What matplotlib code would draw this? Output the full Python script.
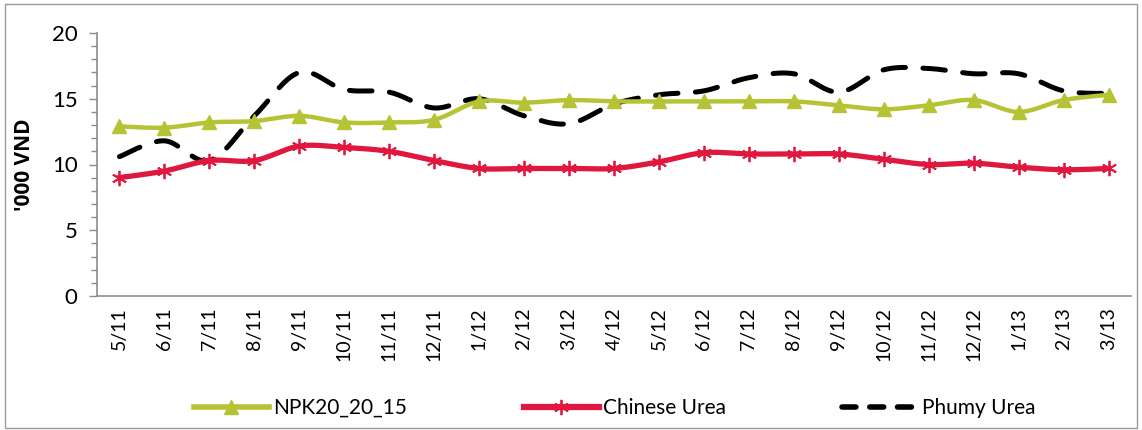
import numpy as np
import matplotlib
matplotlib.use("Agg")
import matplotlib.pyplot as plt
from matplotlib.lines import Line2D
from matplotlib.patches import Rectangle

months = ["5/11", "6/11", "7/11", "8/11", "9/11", "10/11", "11/11", "12/11",
          "1/12", "2/12", "3/12", "4/12", "5/12", "6/12", "7/12", "8/12",
          "9/12", "10/12", "11/12", "12/12", "1/13", "2/13", "3/13"]
npk = [12.9, 12.8, 13.2, 13.3, 13.7, 13.2, 13.2, 13.4, 14.8, 14.7, 14.9,
       14.8, 14.8, 14.8, 14.8, 14.8, 14.5, 14.2, 14.5, 14.9, 14.0, 14.9, 15.3]
chinese = [9.0, 9.5, 10.3, 10.3, 11.4, 11.3, 11.0, 10.3, 9.7, 9.7, 9.7,
           9.7, 10.2, 10.9, 10.8, 10.8, 10.8, 10.4, 10.0, 10.1, 9.8, 9.6, 9.7]
phumy = [10.6, 11.8, 10.3, 13.7, 17.0, 15.7, 15.5, 14.3, 15.0, 13.7, 13.1,
         14.6, 15.3, 15.6, 16.6, 16.9, 15.5, 17.2, 17.3, 16.9, 16.9, 15.6, 15.4]

font = ["Lato", "DejaVu Sans"]
plt.rcParams['font.family'] = font


def smooth(x, y, n=20):
    # Catmull-Rom style curve through the points (Excel "smoothed line" look)
    x = np.asarray(x, float)
    y = np.asarray(y, float)
    px = np.concatenate([[x[0]], x, [x[-1]]])
    py = np.concatenate([[y[0]], y, [y[-1]]])
    xs, ys = [], []
    t = np.linspace(0, 1, n, endpoint=False)
    for i in range(1, len(px) - 2):
        p0x, p1x, p2x, p3x = px[i - 1], px[i], px[i + 1], px[i + 2]
        p0y, p1y, p2y, p3y = py[i - 1], py[i], py[i + 1], py[i + 2]
        c1x, c1y = p1x + (p2x - p0x) / 6, p1y + (p2y - p0y) / 6
        c2x, c2y = p2x - (p3x - p1x) / 6, p2y - (p3y - p1y) / 6
        b0, b1, b2, b3 = (1 - t) ** 3, 3 * (1 - t) ** 2 * t, 3 * (1 - t) * t ** 2, t ** 3
        xs.append(b0 * p1x + b1 * c1x + b2 * c2x + b3 * p2x)
        ys.append(b0 * p1y + b1 * c1y + b2 * c2y + b3 * p2y)
    xs.append([x[-1]])
    ys.append([y[-1]])
    return np.concatenate(xs), np.concatenate(ys)


fig = plt.figure(figsize=(11.42, 4.30), dpi=100)
fig.patches.append(Rectangle((5 / 1142, 2 / 430), 1132 / 1142, 424 / 430,
                             transform=fig.transFigure, fill=False,
                             edgecolor="#9a9a9a", linewidth=1.0))

ax = fig.add_axes([97 / 1142, 1 - 296 / 430, (1131 - 97) / 1142, (296 - 33) / 430])
x = np.arange(len(months))

c_npk = "#B5C334"
c_ch = "#E0173F"
c_ph = "#000000"

sx, sy = smooth(x, phumy)
ax.plot(sx, sy, color=c_ph, lw=3.6, dashes=(4.5, 3.5), solid_capstyle="round",
        dash_capstyle="round", zorder=2)
sx, sy = smooth(x, npk)
ax.plot(sx, sy, color=c_npk, lw=3.2, zorder=3)
ax.plot(x, npk, ls="none", marker="^", ms=10, color=c_npk, zorder=4)
sx, sy = smooth(x, chinese)
ax.plot(sx, sy, color=c_ch, lw=3.8, zorder=3)
ax.plot(x, chinese, ls="none", marker=(6, 2, 0), ms=11, mew=1.3, mec=c_ch, zorder=4)

ax.set_xlim(-0.5, len(months) - 0.5)
ax.set_ylim(0, 20)
ax.set_yticks([0, 5, 10, 15, 20])
ax.set_yticks(np.arange(0, 21, 1), minor=True)
ax.set_xticks(x)
ax.set_xticklabels(months, rotation=90, fontsize=14)
ax.tick_params(axis="x", length=0, pad=8)
ax.tick_params(axis="y", which="major", length=6, width=1, color="#8c8c8c", labelsize=16, pad=8)
ax.tick_params(axis="y", which="minor", length=4, width=1, color="#8c8c8c")
for s in ["top", "right"]:
    ax.spines[s].set_visible(False)
for s in ["left", "bottom"]:
    ax.spines[s].set_color("#8c8c8c")
    ax.spines[s].set_linewidth(1.2)
ax.set_ylabel("'000 VND", fontsize=15, fontweight="bold", labelpad=12,
              family=["Open Sans", "DejaVu Sans"])

handles = [
    Line2D([], [], color=c_npk, lw=4, marker="^", ms=10),
    Line2D([], [], color=c_ch, lw=4.5, marker=(6, 2, 0), ms=11, mec=c_ch, mew=1.3),
    Line2D([], [], color=c_ph, lw=4, dashes=(2.5, 2.5), dash_capstyle="round"),
]
fig.legend(handles, ["NPK20_20_15", "Chinese Urea", "Phumy Urea"],
           loc="center", bbox_to_anchor=(0.538, 1 - 408 / 430), ncol=3,
           frameon=False, fontsize=15, handlelength=3.6, columnspacing=5.6,
           handletextpad=0.2)

fig.savefig("out.png", dpi=100)
